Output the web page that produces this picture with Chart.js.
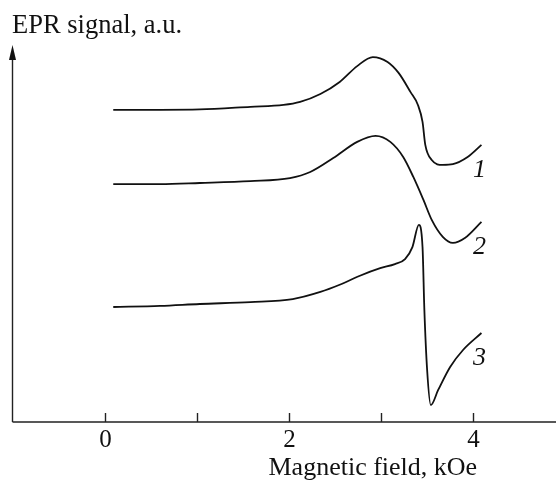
<!DOCTYPE html>
<html>
<head>
<meta charset="utf-8">
<script src="https://cdn.jsdelivr.net/npm/chart.js@4/dist/chart.umd.min.js"></script>
<style>
  html, body { margin: 0; padding: 0; background: #fff; }
  #wrap { width: 556px; height: 483px; position: relative; }
</style>
</head>
<body>
<div id="wrap"><canvas id="epr"></canvas></div>
<script>
// field values (kOe) and signal (a.u.) for the three spectra
const field1 = [0.09, 0.60, 1.03, 1.58, 1.94, 2.12, 2.34, 2.55, 2.74, 2.91, 3.07, 3.19, 3.32, 3.40, 3.45, 3.48, 3.55, 3.67, 3.78, 3.94, 4.09];
const signal1 = [8.28, 8.28, 8.29, 8.36, 8.41, 8.49, 8.70, 9.02, 9.44, 9.68, 9.55, 9.26, 8.75, 8.41, 7.96, 7.35, 6.95, 6.82, 6.84, 7.03, 7.35];

const field2 = [0.09, 0.60, 1.03, 1.58, 2.01, 2.23, 2.48, 2.74, 2.94, 3.10, 3.24, 3.35, 3.46, 3.55, 3.67, 3.78, 3.91, 4.09];
const signal2 = [6.31, 6.31, 6.34, 6.39, 6.47, 6.63, 7.00, 7.43, 7.59, 7.43, 7.03, 6.50, 5.89, 5.36, 4.91, 4.75, 4.88, 5.31];

const field3 = [0.09, 0.60, 1.03, 1.58, 2.04, 2.34, 2.55, 2.77, 2.99, 3.15, 3.26, 3.34, 3.41, 3.45, 3.47, 3.50, 3.54, 3.62, 3.75, 3.89, 4.09];
const signal3 = [3.05, 3.08, 3.13, 3.18, 3.26, 3.45, 3.64, 3.88, 4.08, 4.19, 4.32, 4.64, 5.23, 4.64, 2.97, 1.38, 0.45, 0.85, 1.46, 1.91, 2.36];

const curveNames = ['1', '2', '3'];
const xTicks = [0, 1, 2, 3, 4];
const xTickLabels = ['0', '', '2', '', '4'];

const pts = (xs, ys) => xs.map((x, i) => ({ x: x, y: ys[i] }));
const serif = '"Liberation Serif", "DejaVu Serif", serif';

const makeSet = (label, xs, ys) => ({
  label: label,
  data: pts(xs, ys),
  borderColor: '#111',
  borderWidth: 1.8,
  pointRadius: 0,
  fill: false,
  cubicInterpolationMode: 'monotone'
});

// axes with an arrow, inward ticks and the text around the plot
const frame = {
  id: 'frame',
  afterDraw(chart) {
    const { ctx, chartArea: a, scales: { x, y } } = chart;
    ctx.save();
    ctx.strokeStyle = '#222';
    ctx.fillStyle = '#111';
    ctx.lineWidth = 1.4;

    const left = a.left + 0.5;
    ctx.beginPath();
    ctx.moveTo(left, a.bottom);
    ctx.lineTo(left, a.top + 10);
    ctx.moveTo(left, a.bottom);
    ctx.lineTo(a.right, a.bottom);
    ctx.stroke();

    ctx.beginPath();
    ctx.moveTo(left, a.top);
    ctx.lineTo(left - 3.5, a.top + 15);
    ctx.lineTo(left + 3.5, a.top + 15);
    ctx.closePath();
    ctx.fill();

    ctx.font = '25px ' + serif;
    ctx.textAlign = 'center';
    ctx.textBaseline = 'alphabetic';
    xTicks.forEach((t, i) => {
      const px = Math.round(x.getPixelForValue(t)) + 0.5;
      ctx.beginPath();
      ctx.moveTo(px, a.bottom);
      ctx.lineTo(px, a.bottom - 9);
      ctx.stroke();
      if (xTickLabels[i]) ctx.fillText(xTickLabels[i], px, a.bottom + 25);
    });

    ctx.font = '26px ' + serif;
    ctx.fillText('Magnetic field, kOe', x.getPixelForValue(2.91), a.bottom + 53);

    ctx.font = '26.5px ' + serif;
    ctx.textAlign = 'left';
    ctx.fillText('EPR signal, a.u.', 12, 33);

    ctx.font = 'italic 26px ' + serif;
    ctx.textAlign = 'center';
    ctx.textBaseline = 'middle';
    chart.data.datasets.forEach((ds, i) => {
      const last = ds.data[ds.data.length - 1];
      ctx.fillText(curveNames[i], x.getPixelForValue(last.x) - 2, y.getPixelForValue(last.y) + 25);
    });
    ctx.restore();
  }
};

new Chart(document.getElementById('epr'), {
  type: 'line',
  data: {
    datasets: [
      makeSet(curveNames[0], field1, signal1),
      makeSet(curveNames[1], field2, signal2),
      makeSet(curveNames[2], field3, signal3)
    ]
  },
  options: {
    responsive: true,
    maintainAspectRatio: false,
    animation: false,
    layout: { padding: { left: 12, right: 0, top: 45, bottom: 61 } },
    scales: {
      x: { type: 'linear', min: -1.01, max: 4.9, display: false },
      y: { min: 0, max: 10, display: false }
    },
    plugins: { legend: { display: false }, tooltip: { enabled: false } }
  },
  plugins: [frame]
});
</script>
</body>
</html>
